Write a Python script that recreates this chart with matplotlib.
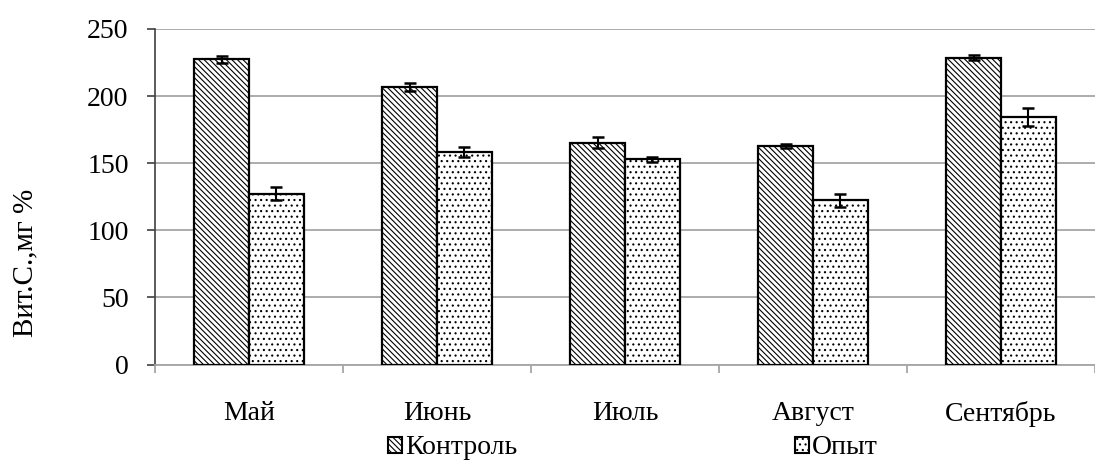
import numpy as np
import matplotlib
matplotlib.use("Agg")
import matplotlib.pyplot as plt
from matplotlib.patches import Patch

# Витамин C по месяцам, мг %
months = ["Май", "Июнь", "Июль", "Август", "Сентябрь"]
kontrol = [227.5, 206.8, 165.4, 162.7, 228.6]
kontrol_err = [2.5, 2.7, 4.2, 1.7, 2.0]
opyt = [127.4, 158.2, 152.8, 122.4, 184.6]
opyt_err = [4.8, 3.6, 2.0, 5.0, 6.7]

plt.rcParams["font.family"] = ["Liberation Serif", "DejaVu Serif"]
plt.rcParams["hatch.linewidth"] = 0.8

W, H = 1095, 462
fig = plt.figure(figsize=(W / 100, H / 100), dpi=100)
ax = fig.add_axes([155 / W, 1 - 364.5 / H, 1 - 155 / W, (364.5 - 29) / H])

hatch_k = "\\\\\\\\\\\\"
hatch_o = "..."

x = np.arange(len(months))
bw = 0.291
ax.bar(x - bw / 2, kontrol, bw, color="white", edgecolor="black", linewidth=1.6,
       hatch=hatch_k, zorder=3)
ax.bar(x + bw / 2, opyt, bw, color="white", edgecolor="black", linewidth=1.6,
       hatch=hatch_o, zorder=3)
ax.errorbar(x - bw / 2, kontrol, yerr=kontrol_err, fmt="none", ecolor="black",
            elinewidth=1.5, capsize=4.5, capthick=1.8, zorder=4)
ax.errorbar(x + bw / 2, opyt, yerr=opyt_err, fmt="none", ecolor="black",
            elinewidth=1.5, capsize=4.5, capthick=1.8, zorder=4)

ax.set_ylim(0, 250)
ax.set_xlim(-0.5, -0.5 + (W - 155) / 194.25)
ax.set_yticks(np.arange(0, 251, 50))
ax.yaxis.grid(True, color="#a6a6a6", linewidth=1.3, zorder=0)
ax.set_axisbelow(True)

# подписи месяцев по центру групп, риски между группами
ax.set_xticks(np.arange(len(months) + 1) - 0.5)
ax.set_xticklabels([])
ax.set_xticks(x, minor=True)
ax.set_xticklabels(months, minor=True, fontsize=20)
ax.tick_params(axis="x", which="major", direction="out", length=6, width=1.3,
               color="#a6a6a6")
ax.tick_params(axis="x", which="minor", length=0, pad=26)
ax.tick_params(axis="y", direction="out", length=6, width=1.2, color="#404040",
               labelsize=20, pad=13)

for s in ["top", "right"]:
    ax.spines[s].set_visible(False)
ax.spines["bottom"].set_color("#a6a6a6")
ax.spines["bottom"].set_linewidth(1.3)
ax.spines["left"].set_color("#404040")
ax.spines["left"].set_linewidth(1.2)

fig.text(25 / W, 1 - 263 / H, "Вит.С.,мг %", rotation=90, fontsize=21,
         ha="center", va="center")

handles = [Patch(facecolor="white", edgecolor="black", linewidth=1.5, hatch=hatch_k,
                 label="Контроль"),
           Patch(facecolor="white", edgecolor="black", linewidth=1.5, hatch=hatch_o,
                 label="Опыт")]
fig.legend(handles=handles, ncol=2, loc="center", bbox_to_anchor=(633 / W, 1 - 448 / H),
           frameon=False, fontsize=20, handlelength=0.5, handleheight=0.5,
           handletextpad=0.1, columnspacing=10.0, borderpad=0)

fig.savefig("out.png", dpi=100)
